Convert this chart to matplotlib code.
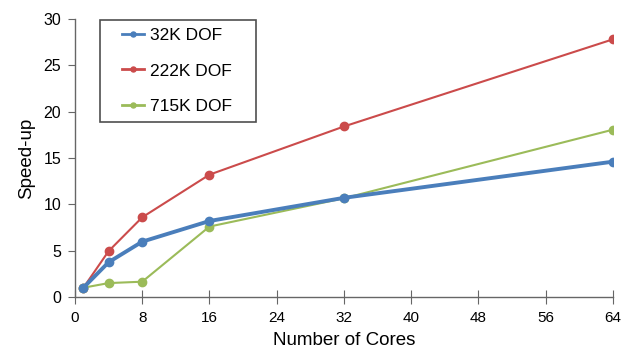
import matplotlib
matplotlib.use("Agg")
import matplotlib.pyplot as plt
from matplotlib.lines import Line2D
from matplotlib.legend_handler import HandlerLine2D

plt.rcParams['font.family'] = ['Liberation Sans', 'DejaVu Sans']

cores = [1, 4, 8, 16, 32, 64]
dof32k = [1.0, 3.75, 5.97, 8.2, 10.7, 14.6]
dof222k = [1.0, 4.95, 8.6, 13.2, 18.4, 27.8]
dof715k = [1.0, 1.5, 1.65, 7.6, 10.65, 18.05]
series_labels = ['32K DOF', '222K DOF', '715K DOF']
xticks = [0, 8, 16, 24, 32, 40, 48, 56, 64]
yticks = [0, 5, 10, 15, 20, 25, 30]

fig = plt.figure(figsize=(6.33, 3.48), dpi=100)
ax = fig.add_axes([0.1185, 0.1466, 0.968 - 0.1185, 0.9454 - 0.1466])

ax.plot(cores, dof32k, color='#4a7ebb', lw=2.8, marker='o', ms=6, label=series_labels[0] + '   ', zorder=3)
ax.plot(cores, dof222k, color='#cb4b4b', lw=1.5, marker='o', ms=6, label=series_labels[1] + '   ', zorder=2)
ax.plot(cores, dof715k, color='#9bbb59', lw=1.5, marker='o', ms=6, label=series_labels[2] + '   ', zorder=2)

ax.set_xlim(0, 64)
ax.set_ylim(0, 30)
ax.set_xticks(xticks)
ax.set_yticks(yticks)
for s in ['top', 'right']:
    ax.spines[s].set_visible(False)
for s in ['left', 'bottom']:
    ax.spines[s].set_color('#666666')
    ax.spines[s].set_linewidth(1.0)
ax.tick_params(axis='x', direction='inout', length=10, color='#666666', labelsize=11, pad=5)
ax.tick_params(axis='y', direction='out', length=5, color='#666666', labelsize=11.5, pad=5)
ax.set_xlabel('Number of Cores', fontsize=13.5, labelpad=5)
ax.set_ylabel('Speed-up', fontsize=13.5, labelpad=6)

leg = ax.legend(loc='upper left', bbox_to_anchor=(0.046, 0.998), fontsize=12.5,
                frameon=True, fancybox=False, edgecolor='#222222', handlelength=2.06,
                borderpad=0.5, labelspacing=1.15, markerscale=0.6, handletextpad=0.35,
                borderaxespad=0, handler_map={Line2D: HandlerLine2D(xpad=0.8)})
leg.get_frame().set_linewidth(1.2)
for h in leg.get_lines():
    h.set_linewidth(2)

fig.savefig('out.png', dpi=100)
